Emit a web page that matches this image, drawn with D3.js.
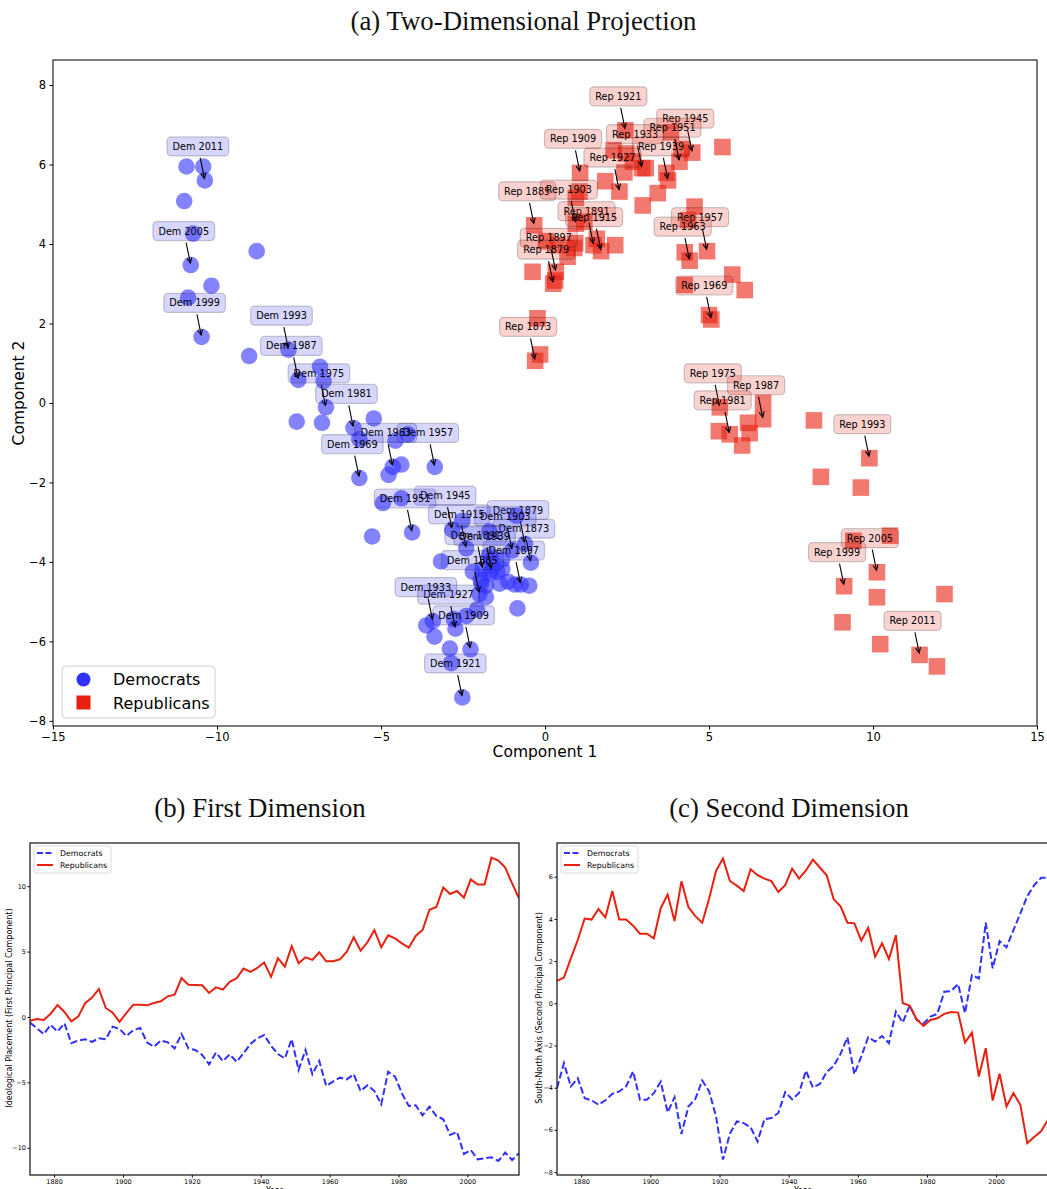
<!DOCTYPE html>
<html>
<head>
<meta charset="utf-8">
<script src="https://cdn.jsdelivr.net/npm/d3@7"></script>
<style>
    body { margin: 0; background: #fff; }
    svg { display: block; font-family: "DejaVu Sans", sans-serif; }
    .title { font-family: "Liberation Serif", serif; font-size: 26.8px; fill: #111; }
</style>
</head>
<body>
<div id="chart"></div>
<script>
// one entry per Congress, 1873 .. 2015
const YEARS = [1873, 1875, 1877, 1879, 1881, 1883, 1885, 1887, 1889, 1891, 1893, 1895,
    1897, 1899, 1901, 1903, 1905, 1907, 1909, 1911, 1913, 1915, 1917, 1919,
    1921, 1923, 1925, 1927, 1929, 1931, 1933, 1935, 1937, 1939, 1941, 1943,
    1945, 1947, 1949, 1951, 1953, 1955, 1957, 1959, 1961, 1963, 1965, 1967,
    1969, 1971, 1973, 1975, 1977, 1979, 1981, 1983, 1985, 1987, 1989, 1991,
    1993, 1995, 1997, 1999, 2001, 2003, 2005, 2007, 2009, 2011, 2013, 2015];

// first principal component
const DEM_FIRST = [-0.43, -0.87, -1.30, -0.61, -1.12, -0.48, -2.00, -1.80, -1.70, -1.90, -1.63, -1.70,
    -0.74, -0.92, -1.45, -1.00, -0.84, -1.96, -2.27, -1.80, -1.94, -2.40, -1.30, -2.40,
    -2.52, -2.90, -3.62, -2.73, -3.37, -2.86, -3.42, -2.78, -2.07, -1.63, -1.38, -2.20,
    -2.83, -3.17, -1.70, -4.05, -2.52, -4.38, -3.36, -5.27, -4.94, -4.64, -4.77, -4.38,
    -5.66, -5.22, -5.66, -6.68, -4.18, -4.56, -5.84, -6.80, -6.75, -7.52, -6.86, -7.57,
    -7.82, -9.02, -8.79, -10.47, -10.17, -10.88, -10.80, -10.73, -11.00, -10.37, -10.93, -10.42];

const REP_FIRST = [-0.30, -0.15, -0.23, 0.25, 0.92, 0.38, -0.33, 0.03, 1.05, 1.48, 2.14, 0.69,
    0.33, -0.38, 0.31, 0.94, 0.94, 0.89, 1.07, 1.20, 1.58, 1.71, 2.98, 2.47,
    2.45, 2.42, 1.84, 2.27, 2.09, 2.68, 2.96, 3.70, 3.44, 3.75, 4.16, 3.07,
    4.49, 3.84, 5.41, 4.10, 4.56, 4.36, 4.94, 4.26, 4.26, 4.41, 5.00, 6.09,
    5.07, 5.71, 6.65, 5.33, 6.24, 6.01, 5.63, 5.30, 6.19, 6.65, 8.20, 8.41,
    9.89, 9.40, 9.63, 9.12, 10.52, 10.12, 10.12, 12.18, 11.95, 11.42, 10.22, 9.07];

// second principal component
const DEM_SECOND = [-4.02, -2.84, -3.94, -3.55, -4.50, -4.60, -4.81, -4.60, -4.29, -4.18, -3.94, -3.23,
    -4.57, -4.57, -4.26, -3.71, -5.17, -4.45, -6.20, -4.89, -4.54, -3.66, -4.18, -5.36,
    -7.41, -6.18, -5.60, -5.68, -5.88, -6.55, -5.49, -5.44, -5.20, -4.21, -4.55, -4.25,
    -3.19, -3.99, -3.83, -3.26, -2.97, -2.40, -1.61, -3.36, -2.52, -1.61, -1.81, -1.55,
    -1.89, -0.39, -0.91, -0.11, -0.79, -0.95, -0.63, -0.50, 0.55, 0.58, 0.91, -0.47,
    1.34, 1.18, 3.82, 1.66, 2.95, 2.65, 3.47, 4.26, 5.08, 5.60, 5.95, 5.95];

const REP_SECOND = [1.06, 1.22, 2.13, 3.00, 4.02, 3.97, 4.47, 4.07, 5.32, 3.97, 3.97, 3.68,
    3.30, 3.30, 3.08, 4.51, 5.16, 3.90, 5.79, 4.56, 4.13, 3.82, 4.97, 6.28,
    6.86, 5.80, 5.58, 5.32, 6.36, 6.07, 5.91, 5.79, 5.28, 5.60, 6.39, 5.91,
    6.30, 6.81, 6.44, 6.07, 4.94, 4.60, 3.82, 3.79, 2.97, 3.58, 2.21, 2.84,
    2.10, 3.23, 0.00, -0.11, -0.76, -1.07, -0.79, -0.71, -0.50, -0.41, -0.44, -1.86,
    -1.39, -3.47, -2.13, -4.61, -3.34, -4.89, -4.26, -4.81, -6.63, -6.34, -6.07, -5.52];

const LABEL_YEARS = [1873, 1879, 1885, 1891, 1897, 1903, 1909, 1915, 1921, 1927, 1933, 1939,
    1945, 1951, 1957, 1963, 1969, 1975, 1981, 1987, 1993, 1999, 2005, 2011];

const PARTIES = ["Democrats", "Republicans"];
const SCATTER_X_TICKS = [-15, -10, -5, 0, 5, 10, 15];
const SCATTER_Y_TICKS = [-8, -6, -4, -2, 0, 2, 4, 6, 8];
const YEAR_TICKS = [1880, 1900, 1920, 1940, 1960, 1980, 2000];
const FIRST_TICKS = [-10, -5, 0, 5, 10];
const SECOND_TICKS = [-8, -6, -4, -2, 0, 2, 4, 6];

(function () {

    const W = 1047, H = 1189;
    const DEM_COLOR = "#3030ff", REP_COLOR = "#e8200f";

    let svg, xA, yA;

    const DEM = YEARS.map((yr, i) => ({ year: yr, x: DEM_FIRST[i], y: DEM_SECOND[i] }));
    const REP = YEARS.map((yr, i) => ({ year: yr, x: REP_FIRST[i], y: REP_SECOND[i] }));

    function styleAxis(g, size) {
        g.select(".domain").remove();
        g.selectAll("text").attr("font-size", size).attr("font-family", "DejaVu Sans").attr("fill", "#000");
        g.selectAll("line").attr("stroke", "#000");
    }

    function drawScatter() {
        const L = 53, R = 1037, T = 60, B = 726;
        xA = d3.scaleLinear().domain([-15, 15]).range([L, R]);
        yA = d3.scaleLinear().domain([-8.13, 8.63]).range([B, T]);

        svg.append("text").attr("class", "title")
            .attr("x", W / 2).attr("y", 30).attr("text-anchor", "middle")
            .text("(a) Two-Dimensional Projection");

        svg.append("g").attr("transform", `translate(0,${B})`)
            .call(d3.axisBottom(xA).tickValues(SCATTER_X_TICKS).tickSize(3.5).tickPadding(3.5))
            .call(g => styleAxis(g, 11.5));
        svg.append("g").attr("transform", `translate(${L},0)`)
            .call(d3.axisLeft(yA).tickValues(SCATTER_Y_TICKS).tickSize(3.5).tickPadding(3.5))
            .call(g => styleAxis(g, 11.5));

        svg.append("text").attr("x", (L + R) / 2).attr("y", 757)
            .attr("text-anchor", "middle").attr("font-size", 15.5).text("Component 1");
        svg.append("text").attr("transform", `translate(24,${(T + B) / 2}) rotate(-90)`)
            .attr("text-anchor", "middle").attr("font-size", 15.5).text("Component 2");

        const marks = svg.append("g");
        marks.selectAll("circle").data(DEM).enter().append("circle")
            .attr("cx", d => xA(d.x)).attr("cy", d => yA(d.y)).attr("r", 8.3)
            .attr("fill", DEM_COLOR).attr("fill-opacity", 0.6);
        marks.selectAll("rect").data(REP).enter().append("rect")
            .attr("x", d => xA(d.x) - 8.3).attr("y", d => yA(d.y) - 8.3)
            .attr("width", 16.6).attr("height", 16.6)
            .attr("fill", REP_COLOR).attr("fill-opacity", 0.6);

        const notes = svg.append("g");
        DEM.filter(d => LABEL_YEARS.includes(d.year)).forEach(d => annotate(notes, d, "Dem", DEM_COLOR));
        REP.filter(d => LABEL_YEARS.includes(d.year)).forEach(d => annotate(notes, d, "Rep", REP_COLOR));

        svg.append("rect").attr("x", L).attr("y", T).attr("width", R - L).attr("height", B - T)
            .attr("fill", "none").attr("stroke", "#111").attr("stroke-width", 1.1);

        // legend
        const lg = svg.append("g");
        lg.append("rect").attr("x", 62).attr("y", 666).attr("width", 153).attr("height", 52).attr("rx", 4)
            .attr("fill", "#fff").attr("fill-opacity", 0.8).attr("stroke", "#d0d0d0");
        lg.append("circle").attr("cx", 83.5).attr("cy", 679.5).attr("r", 7).attr("fill", DEM_COLOR);
        lg.append("rect").attr("x", 76.5).attr("y", 695.5).attr("width", 14).attr("height", 14).attr("fill", REP_COLOR);
        PARTIES.forEach((p, i) => {
            lg.append("text").attr("x", 113).attr("y", 685 + i * 23.5).attr("font-size", 16).text(p);
        });
    }

    function annotate(g, d, prefix, color) {
        const px = xA(d.x), py = yA(d.y);
        const cx = px - 7, cy = py - 34;
        const a = g.append("g");
        const dx = px - cx, dy = py - cy, len = Math.hypot(dx, dy);
        const sx = cx + dx * 11.5 / dy, sy = cy + 11.5;
        const ex = px - 2 * dx / len, ey = py - 2 * dy / len;
        a.append("line").attr("x1", sx).attr("y1", sy).attr("x2", ex).attr("y2", ey)
            .attr("stroke", "#000").attr("stroke-width", 1.1);
        const ang = Math.atan2(ey - sy, ex - sx);
        const head = [ang + 2.7, ang - 2.7].map(t => [ex + 6 * Math.cos(t), ey + 6 * Math.sin(t)]);
        a.append("path")
            .attr("d", `M${head[0]}L${ex},${ey}L${head[1]}`)
            .attr("fill", "none").attr("stroke", "#000").attr("stroke-width", 1.1);
        const txt = a.append("text").attr("x", cx).attr("y", cy + 3.5)
            .attr("text-anchor", "middle").attr("font-size", 9.7).text(`${prefix} ${d.year}`);
        const w = txt.node().getComputedTextLength();
        a.insert("rect", "text")
            .attr("x", cx - w / 2 - 5.5).attr("y", cy - 9.5)
            .attr("width", w + 11).attr("height", 19).attr("rx", 4)
            .attr("fill", color).attr("fill-opacity", 0.2)
            .attr("stroke", "#000").attr("stroke-opacity", 0.2).attr("stroke-width", 1.2);
    }

    function drawLines(opts) {
        const { L, R, T, B, yDomain, yTicks, demVals, repVals, title, ylabel, id } = opts;
        const x = d3.scaleLinear().domain([1873, 2015]).range([L, R]);
        const y = d3.scaleLinear().domain(yDomain).range([B, T]);

        svg.append("text").attr("class", "title")
            .attr("x", opts.titleX).attr("y", 817).attr("text-anchor", "middle").text(title);

        svg.append("clipPath").attr("id", id)
            .append("rect").attr("x", L).attr("y", T).attr("width", R - L).attr("height", B - T);

        svg.append("g").attr("transform", `translate(0,${B})`)
            .call(d3.axisBottom(x).tickValues(YEAR_TICKS).tickFormat(d3.format("d")).tickSize(2.5).tickPadding(2))
            .call(g => styleAxis(g, 6.5));
        svg.append("g").attr("transform", `translate(${L},0)`)
            .call(d3.axisLeft(y).tickValues(yTicks).tickSize(2.5).tickPadding(1.5))
            .call(g => styleAxis(g, 6.5));

        const line = d3.line().x(d => x(d[0])).y(d => y(d[1]));
        const g = svg.append("g").attr("clip-path", `url(#${id})`);
        g.append("path").datum(YEARS.map((yr, i) => [yr, demVals[i]])).attr("d", line)
            .attr("fill", "none").attr("stroke", DEM_COLOR).attr("stroke-width", 2)
            .attr("stroke-dasharray", "7,3");
        g.append("path").datum(YEARS.map((yr, i) => [yr, repVals[i]])).attr("d", line)
            .attr("fill", "none").attr("stroke", REP_COLOR).attr("stroke-width", 2);

        svg.append("rect").attr("x", L).attr("y", T).attr("width", R - L).attr("height", B - T)
            .attr("fill", "none").attr("stroke", "#222").attr("stroke-width", 1.3);

        svg.append("text").attr("x", (L + R) / 2).attr("y", 1193)
            .attr("text-anchor", "middle").attr("font-size", 8).text("Year");
        svg.append("text").attr("transform", `translate(${opts.ylabelX},1008) rotate(-90)`)
            .attr("text-anchor", "middle").attr("font-size", 8).text(ylabel);

        // legend
        const lx = L + 4, ly = T + 3;
        const lg = svg.append("g");
        lg.append("rect").attr("x", lx).attr("y", ly).attr("width", 77).attr("height", 27).attr("rx", 2)
            .attr("fill", "#fff").attr("fill-opacity", 0.8).attr("stroke", "#d0d0d0").attr("stroke-width", 0.8);
        PARTIES.forEach((p, i) => {
            const yy = ly + 7 + i * 12;
            lg.append("line").attr("x1", lx + 3).attr("x2", lx + 19).attr("y1", yy).attr("y2", yy)
                .attr("stroke", i ? REP_COLOR : DEM_COLOR).attr("stroke-width", 2)
                .attr("stroke-dasharray", i ? null : "6,2.5");
            lg.append("text").attr("x", lx + 26).attr("y", yy + 2.8).attr("font-size", 7.8).text(p);
        });
    }

    function initialise() {
        svg = d3.select("#chart").append("svg").attr("width", W).attr("height", H);

        drawScatter();

        drawLines({
            id: "clip-b", L: 30, R: 519, T: 843, B: 1175,
            yDomain: [-12.08, 13.3], yTicks: FIRST_TICKS,
            demVals: DEM_FIRST, repVals: REP_FIRST,
            title: "(b) First Dimension", titleX: 260,
            ylabel: "Ideological Placement (First Principal Component)", ylabelX: 12
        });
        drawLines({
            id: "clip-c", L: 557, R: 1048, T: 843, B: 1175,
            yDomain: [-8.14, 7.6], yTicks: SECOND_TICKS,
            demVals: DEM_SECOND, repVals: REP_SECOND,
            title: "(c) Second Dimension", titleX: 789,
            ylabel: "South-North Axis (Second Principal Component)", ylabelX: 542
        });
    }

    initialise();

})()
</script>
</body>
</html>
